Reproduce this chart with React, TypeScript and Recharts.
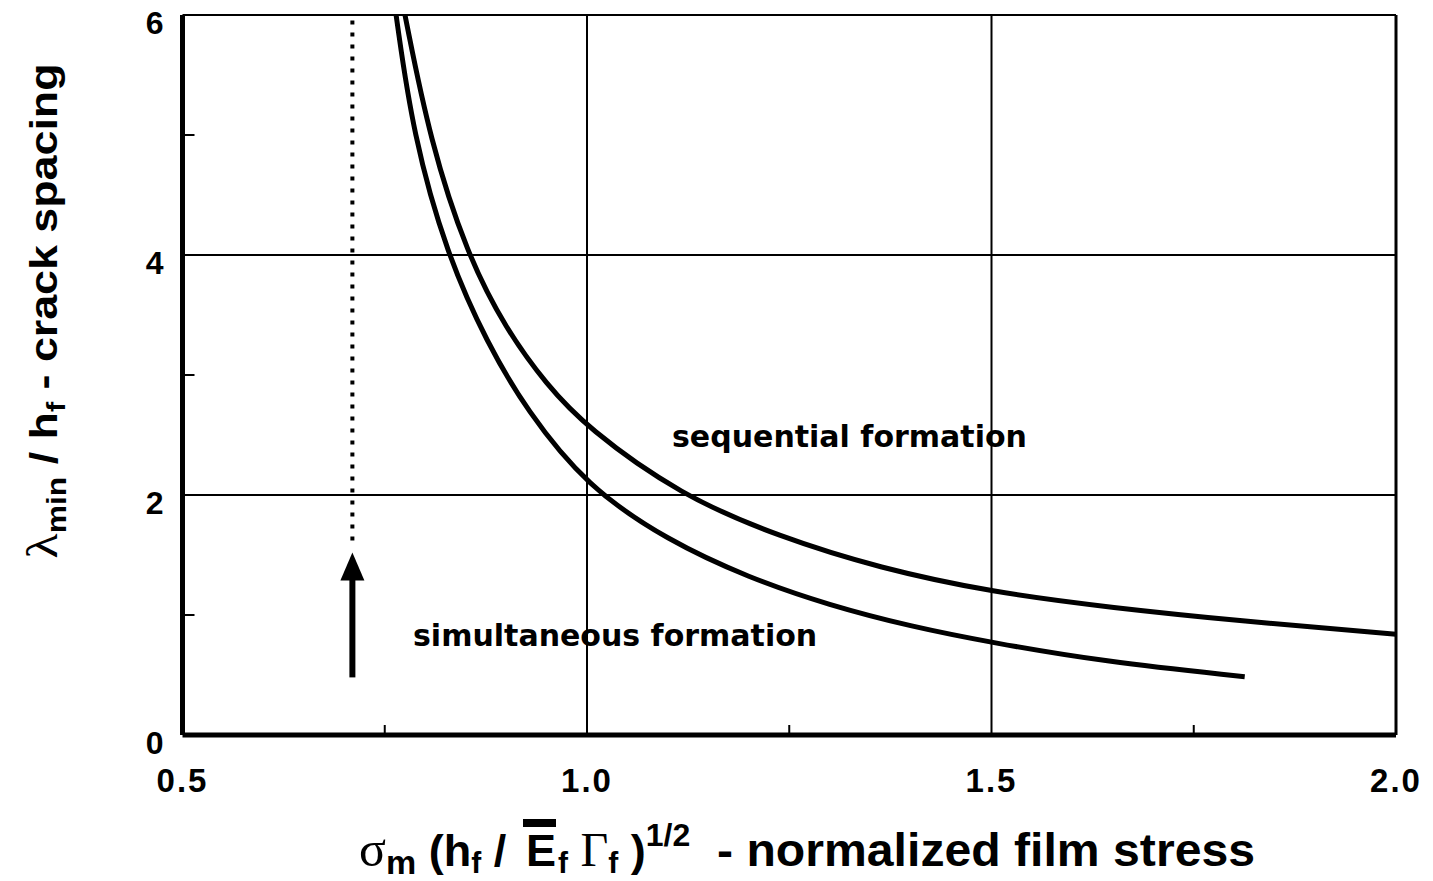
import React from 'react';
import { LineChart, Line, XAxis, YAxis, ReferenceLine, ReferenceDot, Customized } from 'recharts';

// axis ticks (major ones carry a label, the others are short inner marks)
const xTicks = [0.5, 0.75, 1.0, 1.25, 1.5, 1.75, 2.0];
const xLabelTicks = [0.5, 1.0, 1.5, 2.0];
const yTicks = [0, 1, 2, 3, 4, 5, 6];
const yLabelTicks = [0, 2, 4, 6];
const gridX = [1.0, 1.5];
const gridY = [2, 4];

// sequential formation (upper curve)
const sequentialX = [0.775, 0.806, 0.852, 0.9, 0.95, 1.0, 1.115, 1.238, 1.362, 1.5, 1.65, 1.808, 2.0];
const sequentialY = [6.0, 4.95, 4.0, 3.38, 2.92, 2.56, 2.0, 1.65, 1.39, 1.19, 1.06, 0.95, 0.84];

// simultaneous formation (lower curve)
const simultaneousX = [0.764, 0.785, 0.827, 0.877, 0.925, 1.0, 1.1, 1.2, 1.3, 1.4, 1.5, 1.64, 1.813];
const simultaneousY = [6.0, 5.0, 4.0, 3.26, 2.71, 2.07, 1.62, 1.31, 1.08, 0.905, 0.77, 0.61, 0.485];

// dotted marker and arrow
const markerX = 0.71;
const dottedFrom = 1.62;
const arrowTail = 0.48;
const arrowTip = 1.52;

const sequential = sequentialX.map((x, i) => ({ x, y: sequentialY[i] }));
const simultaneous = simultaneousX.map((x, i) => ({ x, y: simultaneousY[i] }));

const X_MARGIN = 33;
const Y_MARGIN = 19;
const TICK_FONT = 'Liberation Sans, Arial, sans-serif';
const NOTE_FONT = 'DejaVu Sans, Verdana, sans-serif';
const LABEL_FONT = 'Liberation Sans, Arial, sans-serif';
const SERIF = 'Liberation Serif, Times New Roman, serif';

function XTick({ x, y, payload }: any) {
    const v = payload.value;
    if (!xLabelTicks.includes(v)) {
        const axisY = y - X_MARGIN;
        return <line x1={x} x2={x} y1={axisY} y2={axisY - 10} stroke="#000" strokeWidth={2} />;
    }
    return (
        <text x={x} y={y} dy={24} textAnchor="middle" fontFamily={TICK_FONT} fontWeight="bold" fontSize={33} letterSpacing={2} fill="#000">
            {v.toFixed(1)}
        </text>
    );
}

function YTick({ x, y, payload }: any) {
    const v = payload.value;
    if (!yLabelTicks.includes(v)) {
        const axisX = x + Y_MARGIN;
        return <line x1={axisX} x2={axisX + 12} y1={y} y2={y} stroke="#000" strokeWidth={2} />;
    }
    return (
        <text x={x} y={y} dy={19} textAnchor="end" fontFamily={TICK_FONT} fontWeight="bold" fontSize={32} fill="#000">
            {v}
        </text>
    );
}

function ArrowHead({ cx, cy }: any) {
    return <path d={`M${cx},${cy} L${cx - 12},${cy + 28} L${cx + 12},${cy + 28} Z`} fill="#000" />;
}

function Labels() {
    return (
        <g>
            {/* y axis title */}
            <text
                x={57}
                y={311}
                transform="rotate(-90 57 311)"
                textAnchor="middle"
                fontFamily={LABEL_FONT}
                fontWeight="bold"
                fontSize={38}
                fill="#000"
                textLength={495}
                lengthAdjust="spacingAndGlyphs"
            >
                <tspan fontFamily={SERIF} fontWeight="normal" fontSize={44}>λ</tspan>
                <tspan fontSize={27} dy={9}>min</tspan>
                <tspan dy={-9}> / h</tspan>
                <tspan fontSize={26} dy={8}>f</tspan>
                <tspan dy={-8}> - crack spacing</tspan>
            </text>

            {/* x axis title */}
            <g fontFamily={LABEL_FONT} fontWeight="bold" fill="#000">
                <text x={359} y={866} fontSize={45}>
                    <tspan fontFamily={SERIF} fontWeight="normal" fontSize={50}>σ</tspan>
                    <tspan fontSize={34} dy={8}>m</tspan>
                    <tspan dy={-8}> (h</tspan>
                    <tspan fontSize={30} dy={7}>f</tspan>
                    <tspan dy={-7}> /</tspan>
                </text>
                <text x={526} y={866} fontSize={45}>E</text>
                <rect x={523} y={819} width={33} height={8} fill="#000" />
                <text x={558} y={866} fontSize={45}>
                    <tspan fontSize={30} dy={7}>f</tspan>
                    <tspan dy={-7}> </tspan>
                    <tspan fontFamily={SERIF} fontWeight="normal" fontSize={48}>Γ</tspan>
                    <tspan fontSize={30} dy={7}>f</tspan>
                    <tspan dy={-7}> )</tspan>
                    <tspan fontSize={32} dy={-20}>1/2</tspan>
                </text>
                <text x={717} y={866} fontSize={47} textLength={538} lengthAdjust="spacingAndGlyphs">
                    - normalized film stress
                </text>
            </g>

            {/* curve annotations */}
            <g fontFamily={NOTE_FONT} fontWeight="bold" fontSize={30} fill="#000">
                <text x={672} y={447}>sequential formation</text>
                <text x={413} y={646}>simultaneous formation</text>
            </g>
        </g>
    );
}

export default function App() {
    return (
        <div style={{ width: 1433, height: 881, background: '#fff' }}>
            <style>{`body { margin: 0; }`}</style>
            <LineChart width={1433} height={881} margin={{ top: 15, right: 37, bottom: 0, left: 0 }}>
                <XAxis
                    dataKey="x"
                    type="number"
                    domain={[0.5, 2]}
                    ticks={xTicks}
                    allowDataOverflow
                    height={146}
                    tickSize={0}
                    tickMargin={X_MARGIN}
                    axisLine={{ stroke: '#000', strokeWidth: 5 }}
                    tickLine={false}
                    tick={<XTick />}
                    interval={0}
                />
                <YAxis
                    dataKey="y"
                    type="number"
                    domain={[0, 6]}
                    ticks={yTicks}
                    allowDataOverflow
                    width={182.5}
                    tickSize={0}
                    tickMargin={Y_MARGIN}
                    axisLine={{ stroke: '#000', strokeWidth: 5 }}
                    tickLine={false}
                    tick={<YTick />}
                    interval={0}
                />

                {/* frame and grid */}
                <ReferenceLine y={6} stroke="#000" strokeWidth={2} />
                <ReferenceLine x={2} stroke="#000" strokeWidth={3} />
                {gridX.map((v) => (
                    <ReferenceLine key={`gx${v}`} x={v} stroke="#000" strokeWidth={2} />
                ))}
                {gridY.map((v) => (
                    <ReferenceLine key={`gy${v}`} y={v} stroke="#000" strokeWidth={2} />
                ))}

                {/* dotted limit and arrow */}
                <ReferenceLine
                    segment={[{ x: markerX, y: dottedFrom }, { x: markerX, y: 6 }]}
                    stroke="#000"
                    strokeWidth={4}
                    strokeDasharray="4 8"
                />
                <ReferenceLine
                    segment={[{ x: markerX, y: arrowTail }, { x: markerX, y: arrowTip - 0.2 }]}
                    stroke="#000"
                    strokeWidth={6}
                />
                <ReferenceDot x={markerX} y={arrowTip} r={0} shape={<ArrowHead />} />

                <Line
                    data={sequential}
                    dataKey="y"
                    type="basis"
                    stroke="#000"
                    strokeWidth={5}
                    dot={false}
                    activeDot={false}
                    isAnimationActive={false}
                />
                <Line
                    data={simultaneous}
                    dataKey="y"
                    type="basis"
                    stroke="#000"
                    strokeWidth={5}
                    dot={false}
                    activeDot={false}
                    isAnimationActive={false}
                />

                <Customized component={<Labels />} />
            </LineChart>
        </div>
    );
}
